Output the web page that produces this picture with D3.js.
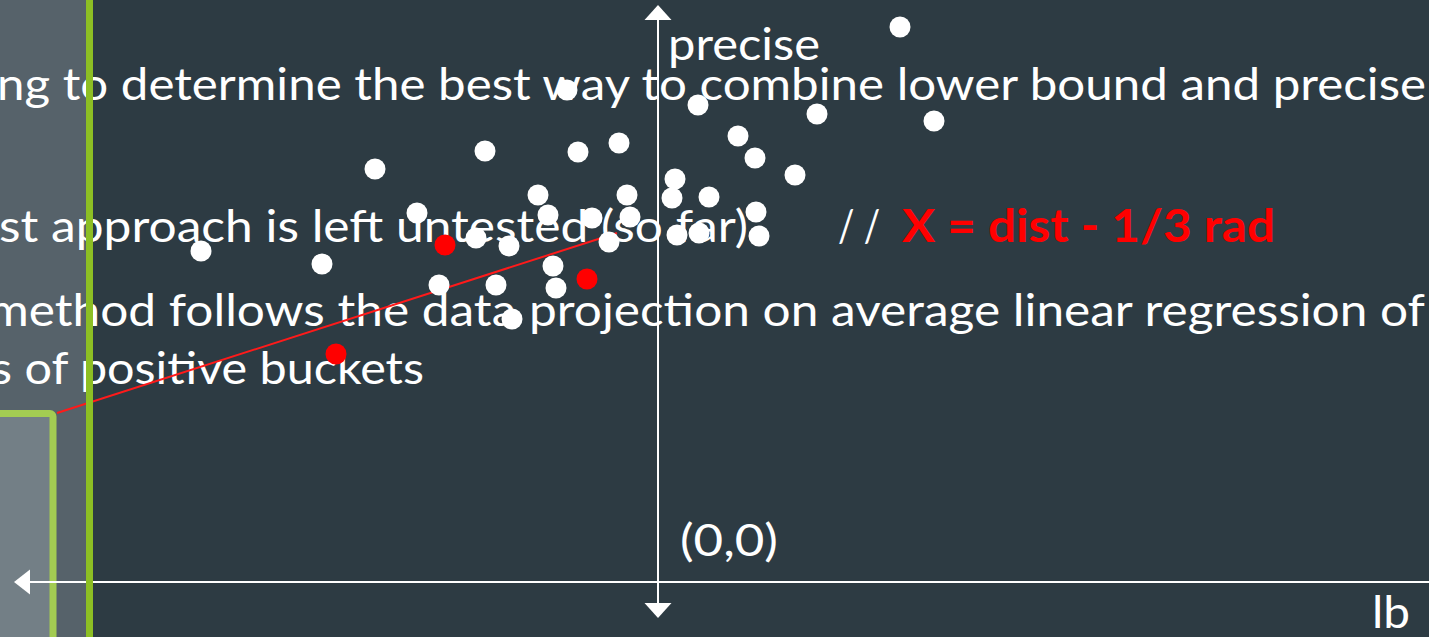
<!DOCTYPE html>
<html>
<head>
<meta charset="utf-8">
<script src="https://cdn.jsdelivr.net/npm/d3@7"></script>
<style>
  body { margin: 0; background: #2d3b43; overflow: hidden; }
</style>
</head>
<body>
<div id="slide"></div>
<script>
// scatter of (lb, precise) samples, one unit = one grid step on the slide
const whiteLb = [2.42, -0.91, 0.40, 1.59, 2.76, -2.83, -1.73, -0.80, -0.39, 0.80,
  0.97, 1.37, 0.17, -1.20, -0.31, 0.14, 0.51, -2.41, -1.10, -0.66,
  -0.28, 0.98, -1.82, -1.49, -0.49, 0.19, 0.41, 1.01, -4.57, -3.36,
  -1.05, -2.19, -1.62, -1.02, -1.46];
const whitePrecise = [5.55, 4.92, 4.77, 4.68, 4.61, 4.13, 4.31, 4.30, 4.39, 4.46,
  4.24, 4.07, 4.03, 3.87, 3.87, 3.84, 3.85, 3.69, 3.67, 3.64,
  3.65, 3.70, 3.44, 3.36, 3.40, 3.47, 3.49, 3.46, 3.31, 3.18,
  3.16, 2.97, 2.97, 2.94, 2.63];
const redLb = [-2.13, -3.22, -0.71];
const redPrecise = [3.37, 2.28, 3.03];
// average linear regression through the positive buckets
const fitLb = [-6.01, -0.41];
const fitPrecise = [1.69, 3.49];
// axis extents
const lbExtent = [-6.44, 7.71];
const preciseExtent = [-0.36, 5.77];

const bodyLines = [
  "ng to determine the best way to combine lower bound and precise",
  "st approach is left untested (so far)",
  "method follows the data projection on average linear regression of",
  "s of positive buckets"
];
const commentText = "/ /";
const formulaText = "X = dist - 1/3 rad";
const axisNames = ["precise", "lb", "(0,0)"];

const W = 1429, H = 637;
const font = "Lato, 'Noto Sans', sans-serif";

const svg = d3.select("#slide").append("svg")
  .attr("width", W)
  .attr("height", H);

svg.append("rect").attr("width", W).attr("height", H).attr("fill", "#2d3b43");

const x = d3.scaleLinear().domain([0, 1]).range([658, 758]);
const y = d3.scaleLinear().domain([0, 1]).range([582, 482]);

// grey side panel on the left
svg.append("rect")
  .attr("x", 0).attr("y", 0)
  .attr("width", 89).attr("height", H)
  .attr("fill", "#56626a");

// body text
const lineSpec = [
  { x: -3, y: 100, len: 1429 },
  { x: -1, y: 242, len: 749 },
  { x: -12, y: 326, len: 1437 },
  { x: -9, y: 384, len: 433 }
];
svg.append("g")
  .selectAll("text")
  .data(bodyLines)
  .enter()
  .append("text")
  .attr("x", (d, i) => lineSpec[i].x)
  .attr("y", (d, i) => lineSpec[i].y)
  .attr("textLength", (d, i) => lineSpec[i].len)
  .attr("lengthAdjust", "spacingAndGlyphs")
  .attr("font-family", font)
  .attr("font-size", 45)
  .attr("fill", "#ffffff")
  .text((d) => d);

svg.append("text")
  .attr("x", 838).attr("y", 242)
  .attr("textLength", 42)
  .attr("lengthAdjust", "spacingAndGlyphs")
  .attr("font-family", font)
  .attr("font-size", 45)
  .attr("fill", "#ffffff")
  .text(commentText);

svg.append("text")
  .attr("x", 902).attr("y", 242)
  .attr("textLength", 373)
  .attr("lengthAdjust", "spacingAndGlyphs")
  .attr("font-family", font)
  .attr("font-size", 45)
  .attr("font-weight", "bold")
  .attr("fill", "#ff0000")
  .text(formulaText);

// axes
const axes = svg.append("g").attr("stroke", "#ffffff").attr("stroke-width", 2);
axes.append("line")
  .attr("x1", x(0)).attr("x2", x(0))
  .attr("y1", y(preciseExtent[1]) + 12).attr("y2", y(preciseExtent[0]) - 12);
axes.append("line")
  .attr("x1", x(lbExtent[0]) + 12).attr("x2", x(lbExtent[1]))
  .attr("y1", y(0)).attr("y2", y(0));

const arrows = svg.append("g").attr("fill", "#ffffff");
const tipTop = [x(0), y(preciseExtent[1])];
const tipBottom = [x(0), y(preciseExtent[0])];
const tipLeft = [x(lbExtent[0]), y(0)];
arrows.append("path").attr("d", d3.line()([
  tipTop, [tipTop[0] - 13.5, tipTop[1] + 15], [tipTop[0] + 13.5, tipTop[1] + 15]
]) + "Z");
arrows.append("path").attr("d", d3.line()([
  tipBottom, [tipBottom[0] - 13.5, tipBottom[1] - 15], [tipBottom[0] + 13.5, tipBottom[1] - 15]
]) + "Z");

// axis names
const nameSpec = [
  { x: 668, y: 60, len: 152 },
  { x: 1372, y: 628, len: 38 },
  { x: 680, y: 556, len: 98 }
];
svg.append("g")
  .selectAll("text")
  .data(axisNames)
  .enter()
  .append("text")
  .attr("x", (d, i) => nameSpec[i].x)
  .attr("y", (d, i) => nameSpec[i].y)
  .attr("textLength", (d, i) => nameSpec[i].len)
  .attr("lengthAdjust", "spacingAndGlyphs")
  .attr("font-family", font)
  .attr("font-size", 45)
  .attr("fill", "#ffffff")
  .text((d) => d);

// regression line
svg.append("line")
  .attr("x1", x(fitLb[0])).attr("y1", y(fitPrecise[0]))
  .attr("x2", x(fitLb[1])).attr("y2", y(fitPrecise[1]))
  .attr("stroke", "#ff1a1a")
  .attr("stroke-width", 2);

// points
const white = whiteLb.map((v, i) => ({ lb: v, precise: whitePrecise[i] }));
const red = redLb.map((v, i) => ({ lb: v, precise: redPrecise[i] }));

svg.append("g")
  .selectAll("circle")
  .data(white)
  .enter()
  .append("circle")
  .attr("cx", (d) => x(d.lb))
  .attr("cy", (d) => y(d.precise))
  .attr("r", 10.5)
  .attr("fill", "#ffffff");

svg.append("g")
  .selectAll("circle")
  .data(red)
  .enter()
  .append("circle")
  .attr("cx", (d) => x(d.lb))
  .attr("cy", (d) => y(d.precise))
  .attr("r", 10.5)
  .attr("fill", "#ff0000");

// green divider and highlighted box on the panel
svg.append("rect")
  .attr("x", 86).attr("y", 0)
  .attr("width", 7).attr("height", H)
  .attr("fill", "#8dbf24");

svg.append("rect")
  .attr("x", -20).attr("y", 413.5)
  .attr("width", 73).attr("height", 260)
  .attr("rx", 3)
  .attr("fill", "#737f86")
  .attr("stroke", "#a3cc52")
  .attr("stroke-width", 7);

// axis part that crosses the box, with its arrow head
svg.append("line")
  .attr("x1", x(lbExtent[0]) + 12).attr("x2", 86)
  .attr("y1", y(0)).attr("y2", y(0))
  .attr("stroke", "#ffffff").attr("stroke-width", 2);
svg.append("path")
  .attr("fill", "#ffffff")
  .attr("d", d3.line()([
    tipLeft, [tipLeft[0] + 16, tipLeft[1] - 12.5], [tipLeft[0] + 16, tipLeft[1] + 12.5]
  ]) + "Z");
</script>
</body>
</html>
